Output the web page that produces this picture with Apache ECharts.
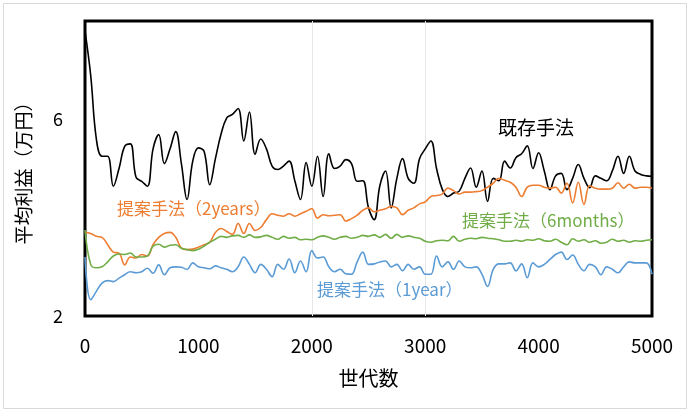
<!DOCTYPE html>
<html>
<head>
<meta charset="utf-8">
<script src="https://cdn.jsdelivr.net/npm/echarts@6/dist/echarts.min.js"></script>
<style>
  html, body { margin: 0; padding: 0; background: #fff; }
  #chart { width: 692px; height: 418px; }
</style>
</head>
<body>
<div id="chart"></div>
<script>
// 世代 0..5000, 50刻み
var generations = [];
for (var g = 0; g <= 5000; g += 50) generations.push(g);

var existing = [7.8, 6.9, 5.6, 5.25, 5.25, 4.64, 5.0, 5.45, 5.5, 4.82,
  4.74, 4.64, 5.4, 5.69, 5.1, 5.4, 5.75, 5.1, 4.37, 5.15,
  5.42, 5.35, 4.67, 5.2, 5.7, 6.03, 6.1, 6.22, 5.56, 6.15,
  5.29, 5.6, 5.4, 5.05, 4.98, 5.05, 5.15, 4.75, 4.37, 5.12,
  4.64, 5.25, 4.43, 5.3, 5.0, 5.05, 5.18, 5.1, 4.74, 4.75,
  4.2, 3.96, 4.65, 4.95, 4.2, 4.8, 5.2, 4.8, 4.7, 5.2,
  5.4, 5.56, 5.0, 4.58, 4.43, 4.5, 4.54, 4.8, 5.01, 4.62,
  4.95, 4.33, 4.8, 4.75, 5.15, 5.01, 5.22, 5.3, 5.46, 5.0,
  5.32, 4.95, 4.57, 4.85, 4.9, 4.57, 4.8, 5.08, 4.8, 4.61,
  4.85, 4.8, 4.75, 4.95, 5.25, 4.9, 5.25, 4.95, 4.88, 4.85, 4.84];

var twoYears = [3.7, 3.68, 3.62, 3.6, 3.45, 3.3, 3.28, 3.04, 3.2, 3.18,
  3.25, 3.22, 3.45, 3.6, 3.68, 3.7, 3.6, 3.38, 3.35, 3.36,
  3.4, 3.45, 3.5, 3.7, 3.78, 3.72, 3.66, 3.88, 3.68, 3.88,
  3.74, 3.8, 3.96, 4.08, 4.05, 4.03, 4.08, 4.03, 4.08, 4.13,
  4.18, 3.99, 4.06, 4.04, 4.05, 4.06, 3.93, 3.98, 4.05, 4.15,
  4.2, 4.12, 4.15, 4.18, 4.23, 4.2, 4.06, 4.15, 4.2, 4.28,
  4.32, 4.43, 4.45, 4.48, 4.6, 4.55, 4.48, 4.52, 4.52, 4.53,
  4.55, 4.62, 4.7, 4.8, 4.76, 4.72, 4.62, 4.43, 4.62, 4.66,
  4.66, 4.62, 4.6, 4.62, 4.5, 4.7, 4.3, 4.72, 4.27, 4.65,
  4.6, 4.58, 4.58, 4.6, 4.71, 4.6, 4.68, 4.6, 4.62, 4.62, 4.6];

var sixMonths = [3.75, 3.05, 2.98, 3.0, 3.1, 3.22, 3.26, 3.25, 3.28, 3.2,
  3.2, 3.22, 3.42, 3.46, 3.4, 3.44, 3.45, 3.38, 3.35, 3.33,
  3.36, 3.42, 3.5, 3.56, 3.62, 3.6, 3.63, 3.64, 3.6, 3.65,
  3.6, 3.61, 3.64, 3.6, 3.56, 3.62, 3.58, 3.6, 3.55, 3.56,
  3.55, 3.6, 3.63, 3.6, 3.56, 3.6, 3.62, 3.58, 3.6, 3.64,
  3.62, 3.65, 3.6, 3.66, 3.58, 3.66, 3.6, 3.63, 3.6, 3.58,
  3.52, 3.5, 3.53, 3.54, 3.53, 3.62, 3.52, 3.56, 3.58, 3.57,
  3.6, 3.58, 3.57, 3.55, 3.52, 3.52, 3.54, 3.52, 3.55, 3.54,
  3.57, 3.53, 3.52, 3.56, 3.5, 3.45, 3.57, 3.52, 3.55, 3.5,
  3.53, 3.48, 3.5, 3.56, 3.52, 3.54, 3.5, 3.53, 3.52, 3.54, 3.55];

var oneYear = [3.2, 2.33, 2.5, 2.67, 2.72, 2.7, 2.77, 2.84, 2.9, 2.88,
  2.9, 2.97, 2.87, 3.04, 2.84, 2.98, 3.0, 2.99, 2.95, 3.08,
  3.0, 2.98, 2.96, 3.02, 2.98, 2.95, 2.9, 3.0, 3.2, 3.05,
  2.88, 3.05, 2.95, 2.8, 3.05, 2.95, 3.16, 2.88, 3.12, 2.9,
  3.33, 3.18, 3.2, 3.0, 2.9, 2.95, 2.86, 2.85, 3.1, 3.3,
  3.05, 3.06, 3.1, 3.12, 3.0, 3.05, 2.92, 3.05, 2.95, 3.0,
  2.85, 2.85, 3.22, 3.0, 3.1, 2.95, 3.12, 3.0, 2.98, 3.0,
  2.85, 2.6, 2.95, 3.06, 3.06, 3.08, 2.92, 3.06, 2.78, 3.08,
  3.0, 3.05, 3.15, 3.25, 3.3, 3.15, 3.24, 3.05, 2.92, 3.05,
  3.0, 2.84, 3.0, 2.95, 2.88, 3.0, 3.1, 3.08, 3.08, 3.08, 2.85];

var gridLinesAt = [2000, 3000];

function pairs(vals) {
  return generations.map(function (g, i) { return [g, vals[i]]; });
}

var font = '"Noto Sans CJK JP", "Noto Sans", sans-serif';
var chart = echarts.init(document.getElementById('chart'));

function lineSeries(name, vals, color) {
  return {
    name: name,
    type: 'line',
    data: pairs(vals),
    smooth: 0.4,
    symbol: 'none',
    lineStyle: { color: color, width: 1.6 },
    z: 3
  };
}

var series = [
  lineSeries('既存手法', existing, '#000000'),
  lineSeries('提案手法（2years）', twoYears, '#ED7D31'),
  lineSeries('提案手法（6months）', sixMonths, '#70AD47'),
  lineSeries('提案手法（1year）', oneYear, '#5B9BD5')
];
series[0].markLine = {
  silent: true,
  symbol: 'none',
  label: { show: false },
  lineStyle: { color: '#e6e6e6', width: 1, type: 'solid' },
  data: gridLinesAt.map(function (x) { return { xAxis: x }; }),
  z: 1
};

var option = {
  backgroundColor: '#fff',
  animation: false,
  grid: {
    left: 85, right: 40, top: 21, bottom: 102,
    show: true, borderColor: '#000', borderWidth: 3
  },
  xAxis: {
    type: 'value',
    min: 0, max: 5000, interval: 1000,
    name: '世代数',
    nameLocation: 'middle',
    nameGap: 52,
    nameTextStyle: { fontFamily: font, fontSize: 20, color: '#000' },
    axisLine: { show: false },
    axisTick: { show: false },
    splitLine: { show: false },
    axisLabel: {
      fontFamily: font, fontSize: 19, color: '#000', margin: 20,
      formatter: function (v) { return String(v); }
    }
  },
  yAxis: {
    type: 'value',
    min: 2, max: 8, interval: 4,
    name: '平均利益（万円）',
    nameLocation: 'middle',
    nameGap: 52,
    nameTextStyle: { fontFamily: font, fontSize: 19, color: '#000' },
    axisLine: { show: false },
    axisTick: { show: false },
    splitLine: { show: false },
    axisLabel: {
      fontFamily: font, fontSize: 18, color: '#000', margin: 22,
      formatter: function (v) { return v === 8 ? '' : String(v); }
    }
  },
  series: series,
  graphic: [
    {
      type: 'rect', silent: true, z: -1,
      shape: { x: 3.5, y: 3.5, width: 683, height: 405 },
      style: { fill: 'none', stroke: '#d9d9d9', lineWidth: 1 }
    },
    {
      type: 'text', left: 498, top: 118, z: 10,
      style: { text: '既存手法', fill: '#000', font: '19px ' + font }
    },
    {
      type: 'text', left: 117, top: 200, z: 10,
      style: { text: '提案手法（2years）', fill: '#ED7D31', font: '17px ' + font }
    },
    {
      type: 'text', left: 462, top: 212, z: 10,
      style: { text: '提案手法（6months）', fill: '#70AD47', font: '17px ' + font }
    },
    {
      type: 'text', left: 317, top: 281, z: 10,
      style: { text: '提案手法（1year）', fill: '#5B9BD5', font: '17px ' + font }
    }
  ]
};

chart.setOption(option);
window.addEventListener('resize', function () { chart.resize(); });
</script>
</body>
</html>
